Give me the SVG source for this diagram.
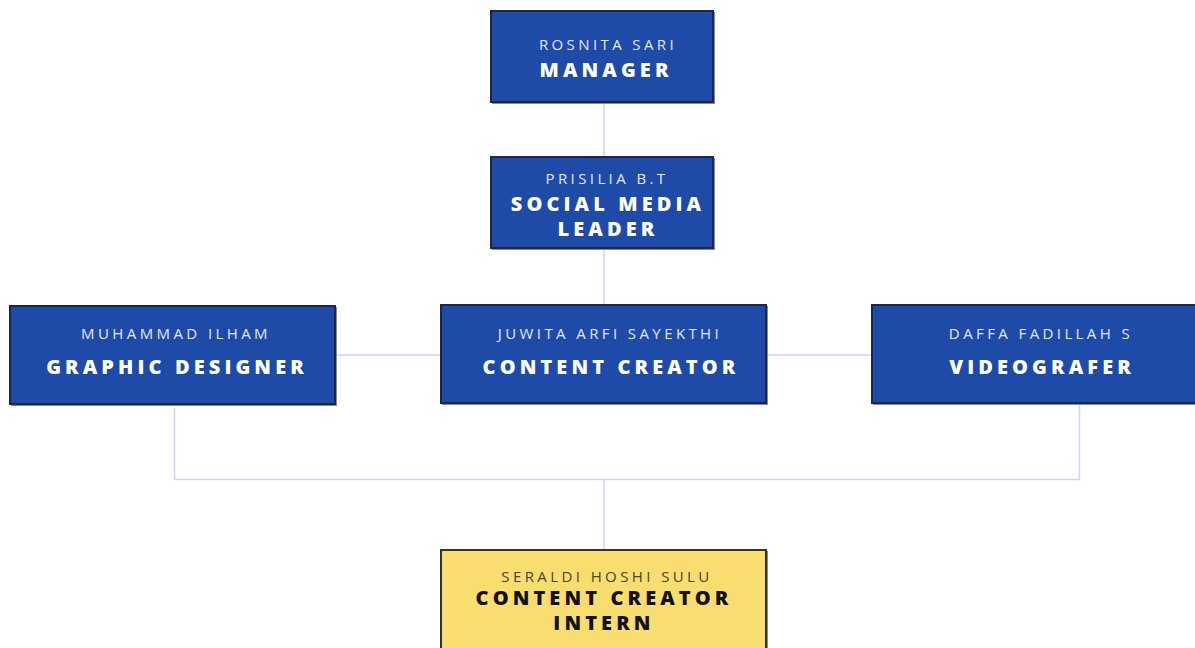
<svg xmlns="http://www.w3.org/2000/svg" width="1195" height="648" viewBox="0 0 1195 648">
<style>
.box{fill:#1e4ba8;stroke:#1b2650;stroke-width:2}
.ybox{fill:#f9dd6e;stroke:#3a3320;stroke-width:2}
.shadow{fill:#8a8a8a}
.name{font-family:"Open Sans","Liberation Sans",sans-serif;font-size:15px;letter-spacing:3.4px;fill:#e4e8f4;text-anchor:middle}
.title{font-family:"Open Sans","Liberation Sans",sans-serif;font-weight:800;font-size:20px;letter-spacing:4.1px;fill:#ffffff;text-anchor:middle}
.yname{fill:#4a4330}
.ytitle{fill:#111111}
.conn{fill:none;stroke:#d9ccff;stroke-width:1.5}
</style>
<rect width="1195" height="648" fill="#ffffff"/>
<g id="connectors">
<line class="conn" x1="604" y1="103" x2="604" y2="157"/>
<line class="conn" x1="604" y1="250" x2="604" y2="305"/>
<line class="conn" x1="336" y1="355" x2="441" y2="355"/>
<line class="conn" x1="768" y1="355" x2="872" y2="355"/>
<polyline class="conn" points="174.5,408 174.5,479.5 1079.5,479.5 1079.5,405"/>
<line class="conn" x1="604" y1="480" x2="604" y2="550"/>
</g>
<g id="manager">
<rect class="shadow" x="492" y="12" width="223" height="92"/>
<rect class="box" x="491" y="11" width="222" height="91"/>
<text class="name" x="608" y="50">ROSNITA SARI</text>
<text class="title" x="606" y="77">MANAGER</text>
</g>
<g id="social-media-leader">
<rect class="shadow" x="492" y="158" width="223" height="92"/>
<rect class="box" x="491" y="157" width="222" height="91"/>
<text class="name" x="607" y="184">PRISILIA B.T</text>
<text class="title" x="608" y="211">SOCIAL MEDIA</text>
<text class="title" x="608" y="236">LEADER</text>
</g>
<g id="graphic-designer">
<rect class="shadow" x="11" y="307" width="326" height="99"/>
<rect class="box" x="10" y="306" width="325" height="98"/>
<text class="name" x="176" y="339">MUHAMMAD ILHAM</text>
<text class="title" x="177" y="374">GRAPHIC DESIGNER</text>
</g>
<g id="content-creator">
<rect class="shadow" x="442" y="306" width="326" height="99"/>
<rect class="box" x="441" y="305" width="325" height="98"/>
<text class="name" x="610" y="339">JUWITA ARFI SAYEKTHI</text>
<text class="title" x="611" y="374">CONTENT CREATOR</text>
</g>
<g id="videografer">
<rect class="shadow" x="873" y="306" width="330" height="99"/>
<rect class="box" x="872" y="305" width="330" height="98"/>
<text class="name" x="1041" y="339">DAFFA FADILLAH S</text>
<text class="title" x="1042" y="374">VIDEOGRAFER</text>
</g>
<g id="content-creator-intern">
<rect class="shadow" x="442" y="551" width="326" height="100"/>
<rect class="ybox" x="441" y="550" width="325" height="102"/>
<text class="name yname" x="607" y="582">SERALDI HOSHI SULU</text>
<text class="title ytitle" x="604" y="605">CONTENT CREATOR</text>
<text class="title ytitle" x="604" y="630">INTERN</text>
</g>
</svg>
